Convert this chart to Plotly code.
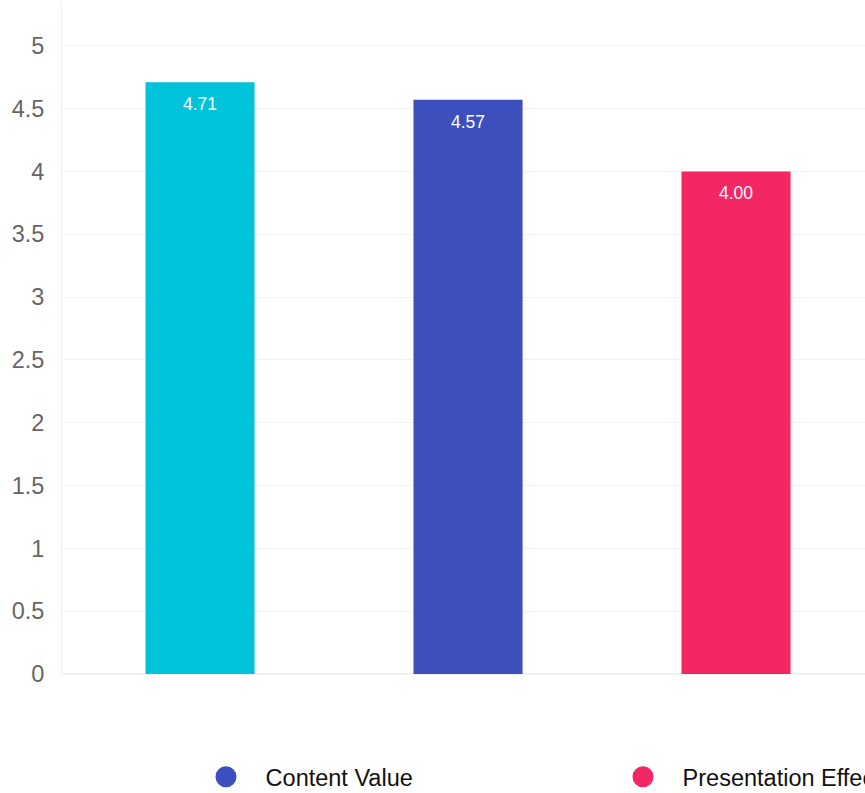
import plotly.graph_objects as go

categories = ["Overall Rating", "Content Value", "Presentation Effect"]
values = [4.71, 4.57, 4.00]
colors = ["#00C3D9", "#3C4FBD", "#F22763"]
legend_names = ["Content Value", "Presentation Effect"]
legend_colors = ["#3C4FBD", "#F22763"]
y_ticks = [0, 0.5, 1, 1.5, 2, 2.5, 3, 3.5, 4, 4.5, 5]
y_tick_text = ["0", "0.5", "1", "1.5", "2", "2.5", "3", "3.5", "4", "4.5", "5"]

W, H = 1000, 793
fig = go.Figure()
for cat, v, c in zip(categories, values, colors):
    fig.add_trace(go.Bar(x=[cat], y=[v], marker=dict(color=c, line=dict(width=0)),
                         showlegend=False, width=0.407, hoverinfo="y"))
    fig.add_annotation(x=cat, y=v, text=f"{v:.2f}", showarrow=False, yanchor="top",
                       yshift=-10, font=dict(color="white", size=17.5,
                                             family="Liberation Sans, Arial, sans-serif"))
for n, c in zip(legend_names, legend_colors):
    fig.add_trace(go.Scatter(x=[None], y=[None], mode="markers",
                             name="\u00a0\u00a0\u00a0" + n,
                             marker=dict(symbol="circle", size=16, color=c,
                                         line=dict(width=5, color=c))))

fig.update_layout(
    width=W, height=H,
    margin=dict(l=62, r=0, t=3, b=119),
    plot_bgcolor="white", paper_bgcolor="white",
    font=dict(family="Liberation Sans, Arial, sans-serif"),
    barmode="overlay",
    xaxis=dict(range=[-0.515, 2.985], showticklabels=False, showgrid=False,
               zeroline=False, showline=False, type="category",
               categoryorder="array", categoryarray=categories),
    yaxis=dict(range=[0, 5.34], tickvals=y_ticks, ticktext=y_tick_text,
               gridcolor="#F2F2F2", gridwidth=1, zeroline=True, zerolinecolor="#F0F0F0",
               showline=True, linecolor="#F0F0F0", linewidth=1,
               tickfont=dict(size=23.5, color="#666666"), ticks="", ticklen=0,
               ticklabelstandoff=12),
    legend=dict(orientation="h", xref="container", yref="container",
                x=0.206, y=1 - 777 / H, xanchor="left", yanchor="middle",
                entrywidth=372, font=dict(size=23.5, color="#111111"),
                itemsizing="trace", bgcolor="rgba(0,0,0,0)"),
)

fig.write_html("out.html", config={"displayModeBar": False},
               post_script="document.body.style.margin='0';document.body.style.overflow='hidden';")
